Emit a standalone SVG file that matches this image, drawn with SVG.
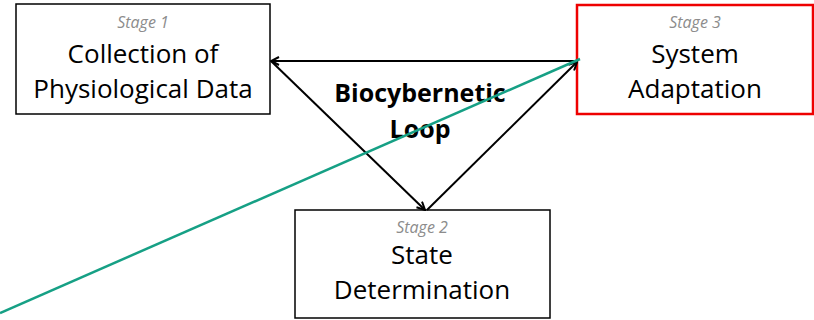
<svg xmlns="http://www.w3.org/2000/svg" width="814" height="320" viewBox="0 0 814 320">
<defs>
<marker id="ah" markerWidth="10" markerHeight="10" refX="9" refY="5" orient="auto" markerUnits="userSpaceOnUse">
<path d="M1,1 L9,5 L1,9" fill="none" stroke="#000" stroke-width="2"/>
</marker>
<style>
.box{fill:#fff;stroke:#000;stroke-width:1.5}
.red{fill:#fff;stroke:#e00;stroke-width:2.5}
.stage{font-family:"Open Sans",sans-serif;font-style:italic;font-size:16px;fill:#8c8c8c;text-anchor:middle}
.lbl{font-family:"Open Sans",sans-serif;font-size:26px;fill:#000;text-anchor:middle}
.bold{font-family:"Open Sans",sans-serif;font-weight:bold;font-size:25px;fill:#000;text-anchor:middle}
.conn{stroke:#000;stroke-width:2;fill:none}
</style>
</defs>
<g id="stage1">
<rect class="box" x="16" y="4" width="254" height="110"/>
<text class="stage" x="143" y="28">Stage 1</text>
<text class="lbl" x="143" y="63">Collection of</text>
<text class="lbl" x="143" y="98">Physiological Data</text>
</g>
<g id="stage3">
<rect class="red" x="577" y="5" width="236" height="109"/>
<text class="stage" x="695" y="28">Stage 3</text>
<text class="lbl" x="695" y="63">System</text>
<text class="lbl" x="695" y="98">Adaptation</text>
</g>
<g id="stage2">
<rect class="box" x="295" y="210" width="255" height="108"/>
<text class="stage" x="422" y="233">Stage 2</text>
<text class="lbl" x="422" y="264">State</text>
<text class="lbl" x="422" y="299">Determination</text>
</g>
<g id="label">
<text class="bold" x="420" y="102">Biocybernetic</text>
<text class="bold" x="420" y="138">Loop</text>
</g>
<g id="connectors">
<line class="conn" x1="577" y1="61" x2="271" y2="61" marker-end="url(#ah)"/>
<line class="conn" x1="271" y1="61" x2="425" y2="210" marker-end="url(#ah)"/>
<line class="conn" x1="427" y1="210" x2="577" y2="62" marker-end="url(#ah)"/>
<line x1="0" y1="313" x2="580" y2="59" stroke="#16a085" stroke-width="2.5"/>
</g>
</svg>
